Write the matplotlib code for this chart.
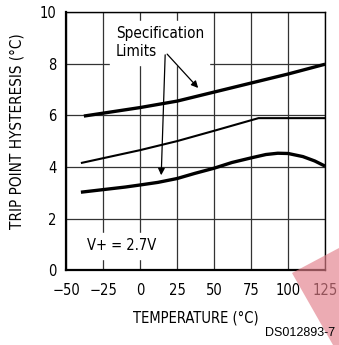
import matplotlib.pyplot as plt
from matplotlib.patches import Polygon
import numpy as np

# data
temp_upper = [-38, 0, 25, 50, 75, 100, 125]
hyst_upper = [5.97, 6.3, 6.55, 6.9, 7.25, 7.6, 7.98]

temp_typ = [-40, 0, 25, 50, 80, 100, 125]
hyst_typ = [4.15, 4.65, 5.0, 5.4, 5.89, 5.89, 5.89]

temp_lower = [-40, -25, -10, 0, 12, 25, 37, 50, 62, 75, 85, 93, 100, 110, 118, 125]
hyst_lower = [3.02, 3.12, 3.22, 3.3, 3.4, 3.55, 3.75, 3.95, 4.17, 4.35, 4.48, 4.53, 4.52, 4.4, 4.23, 4.03]

xticks = [-50, -25, 0, 25, 50, 75, 100, 125]
yticks = [0, 2, 4, 6, 8, 10]

plt.rcParams['font.family'] = ['DejaVu Sans']
plt.rcParams['font.stretch'] = 'condensed'

fig = plt.figure(figsize=(3.39, 3.45), dpi=100)
ax = fig.add_axes([0.195, 0.217, 0.764, 0.748])

ax.plot(temp_upper, hyst_upper, color='black', lw=2.4, solid_capstyle='butt')
ax.plot(temp_typ, hyst_typ, color='black', lw=1.5, solid_capstyle='butt')
ax.plot(temp_lower, hyst_lower, color='black', lw=2.4, solid_capstyle='butt')

ax.set_xlim(-50, 125)
ax.set_ylim(0, 10)
ax.set_xticks(xticks)
ax.set_yticks(yticks)
ax.set_xticklabels(['\u221250', '\u221225', '0', '25', '50', '75', '100', '125'])
ax.grid(True, color='#333333', lw=0.9)
ax.tick_params(length=0, labelsize=10.5)
ax.tick_params(axis='x', pad=9)
ax.tick_params(axis='y', pad=7)
for s in ax.spines.values():
    s.set_linewidth(1.0)
ax.spines['bottom'].set_linewidth(1.6)
ax.spines['left'].set_linewidth(1.6)

ax.set_xlabel('TEMPERATURE (°C)', fontsize=10.5, labelpad=9)
ax.set_ylabel('TRIP POINT HYSTERESIS (°C)', fontsize=11)
ax.yaxis.set_label_coords(-0.16, 0.54)

ax.text(-16.5, 9.45, 'Specification\nLimits', fontsize=11, va='top', ha='left',
        linespacing=1.25, backgroundcolor='white')
ax.annotate('', xy=(40.5, 6.98), xytext=(17, 8.45),
            arrowprops=dict(arrowstyle='-|>', color='black', lw=0.9, mutation_scale=10))
ax.annotate('', xy=(14.2, 3.57), xytext=(17, 8.45),
            arrowprops=dict(arrowstyle='-|>', color='black', lw=0.9, mutation_scale=10))

ax.text(-36, 0.95, 'V+ = 2.7V', fontsize=10.5, va='center', ha='left',
        backgroundcolor='white')

fig.text(0.988, 0.035, 'DS012893-7', fontsize=9, ha='right', va='center',
         family=['Liberation Sans', 'DejaVu Sans'], stretch='normal')

# pink watermark in the corner
tri = Polygon([[292 / 339, 1 - 273 / 345], [1.0, 1 - 248 / 345], [1.0, 0.0], [333 / 339, 0.0]],
              closed=True, transform=fig.transFigure, color='#e27f8a', alpha=0.65, lw=0)
fig.patches.append(tri)

fig.savefig('out.png', dpi=100)
